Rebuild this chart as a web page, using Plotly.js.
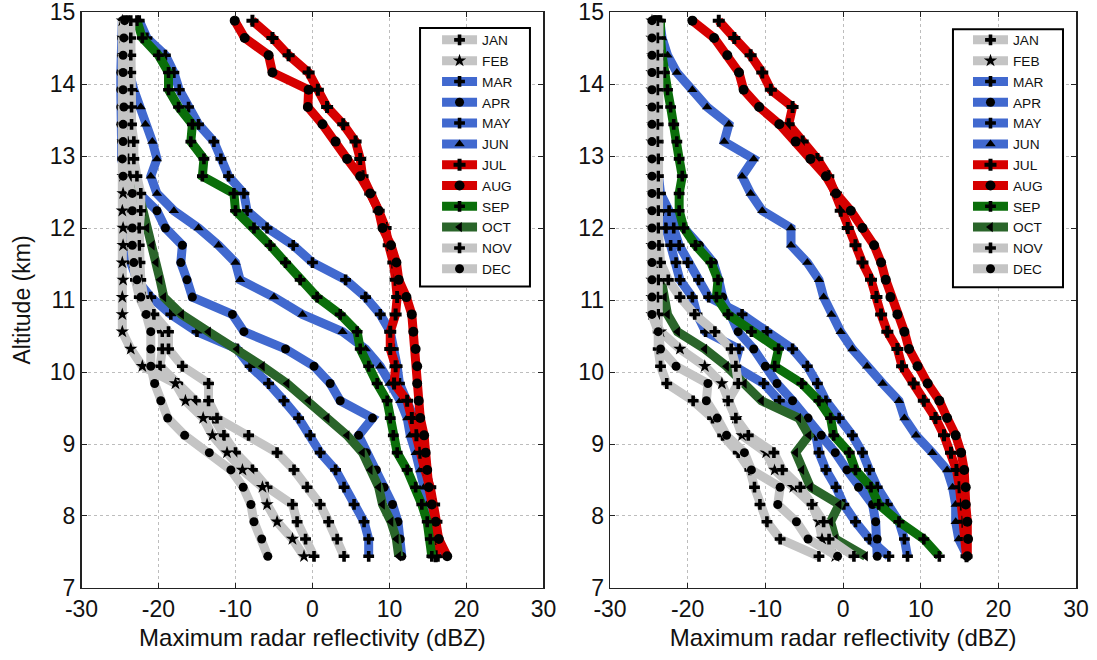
<!DOCTYPE html>
<html>
<head>
<meta charset="utf-8">
<script src="https://cdn.plot.ly/plotly-3.0.1.min.js"></script>
<style>html,body{margin:0;padding:0;background:#fff;}#chart{width:1097px;height:660px;}</style>
</head>
<body>
<div id="chart"></div>
<script>
// Altitude levels (km), bottom to top
const ALT = [7.44,7.68,7.92,8.16,8.40,8.64,8.88,9.12,9.36,9.60,9.84,10.08,10.32,10.56,10.80,11.04,11.28,11.52,11.76,12.00,12.24,12.48,12.72,12.96,13.20,13.44,13.68,13.92,14.16,14.40,14.64,14.88];
const MONTHS = ['JAN','FEB','MAR','APR','MAY','JUN','JUL','AUG','SEP','OCT','NOV','DEC'];
const X_TICKS = [-30,-20,-10,0,10,20,30];
const X_TICK_TEXT = ['-30','-20','-10','0','10','20','30'];
const Y_TICKS = [7,8,9,10,11,12,13,14,15];

// ---- Left panel: max reflectivity (dBZ) per altitude level ----
const L_JAN = [0.2,-0.9,-2.0,-2.6,-5.9,-7.8,-10.0,-11.5,-12.8,-15.2,-17.5,-19.8,-19.5,-19.5,-21.5,-22.5,-23.0,-23.3,-23.5,-23.6,-23.6,-23.7,-23.7,-23.8,-23.8,-23.8,-23.9,-23.9,-23.9,-24.0,-24.0,-24.0];
const L_FEB = [-1.1,-2.6,-4.6,-5.9,-6.5,-9.1,-11.1,-13.0,-14.2,-16.5,-17.8,-22.1,-23.6,-24.7,-24.7,-24.7,-24.6,-24.7,-24.6,-24.6,-24.7,-24.6,-24.6,-24.5,-24.6,-24.6,-24.5,-24.6,-24.6,-24.5,-24.6,-24.7];
const L_MAR = [7.3,7.3,6.7,5.4,4.1,3.0,1.0,-0.3,-1.8,-3.7,-5.7,-8.1,-9.8,-15.0,-18.4,-21.0,-22.8,-23.6,-24.0,-24.2,-24.3,-24.4,-24.5,-24.5,-24.6,-24.6,-24.6,-24.6,-24.6,-24.6,-24.5,-24.4];
const L_APR = [11.6,11.4,11.1,10.4,9.3,8.3,7.0,6.0,7.8,3.6,2.3,0.2,-3.5,-8.9,-10.4,-15.6,-16.3,-17.1,-16.9,-19.1,-20.2,-22.5,-24.3,-24.8,-24.8,-24.9,-24.9,-24.9,-24.9,-24.8,-24.8,-24.7];
const L_MAY = [16.3,16.1,15.9,15.6,15.2,14.8,14.3,13.8,13.2,12.2,11.3,11.0,10.5,10.1,8.8,6.9,4.3,0.0,-2.5,-5.9,-8.5,-8.9,-10.9,-11.9,-12.8,-14.8,-16.1,-17.3,-18.0,-19.1,-21.5,-22.5];
const L_JUN = [15.6,15.4,15.2,14.9,14.5,14.0,13.4,12.7,12.3,11.4,10.0,8.8,6.9,3.9,-1.3,-5.0,-9.4,-10.0,-12.2,-14.8,-18.0,-20.2,-21.0,-20.2,-20.8,-21.7,-22.3,-23.2,-23.8,-24.2,-24.4,-24.5];
const L_JUL = [16.0,16.2,16.1,15.8,15.3,14.6,14.0,13.5,12.9,12.3,10.6,10.8,10.1,10.1,10.8,11.0,10.8,10.5,9.9,9.5,8.6,7.5,6.5,6.2,5.6,4.0,1.9,0.7,-0.5,-3.1,-5.2,-7.8];
const L_AUG = [17.5,16.4,16.0,15.5,15.1,14.9,14.7,14.5,14.0,13.8,13.6,13.6,13.4,13.1,12.9,12.2,11.2,10.9,10.2,9.1,8.6,7.5,6.2,4.5,3.0,1.3,-0.6,-0.5,-5.2,-5.7,-8.8,-10.1];
const L_SEP = [15.5,15.3,14.9,14.2,13.4,12.3,11.0,10.5,10.1,9.7,8.4,7.3,6.2,5.8,3.6,0.6,-1.6,-3.5,-5.5,-7.6,-10.0,-10.2,-14.3,-14.1,-15.8,-15.6,-17.4,-18.7,-18.7,-20.0,-22.1,-22.8];
const L_OCT = [11.2,10.9,10.2,9.1,8.6,7.5,6.5,4.5,1.9,-0.5,-3.3,-6.5,-9.8,-13.5,-17.0,-19.3,-19.8,-20.3,-20.8,-21.5,-22.0,-22.6,-23.1,-23.6,-24.3,-24.3,-24.3,-24.3,-24.3,-24.3,-24.3,-24.3];
const L_NOV = [4.1,3.2,2.1,1.0,-0.7,-2.4,-4.6,-8.3,-12.4,-13.5,-13.5,-16.9,-18.7,-18.7,-20.6,-21.9,-22.3,-22.4,-22.5,-22.5,-22.3,-22.3,-22.8,-23.2,-23.2,-23.5,-23.5,-23.5,-23.6,-23.6,-23.6,-23.6];
const L_DEC = [-5.8,-6.6,-7.6,-8.0,-9.0,-10.6,-13.4,-16.6,-18.8,-19.7,-20.5,-21.0,-21.0,-21.0,-21.6,-22.3,-22.8,-23.2,-23.4,-23.4,-23.4,-23.4,-24.6,-24.7,-24.6,-24.6,-24.5,-24.6,-24.6,-24.6,-24.5,-24.4];

// ---- Right panel ----
const R_JAN = [-3.1,-8.1,-9.8,-10.7,-11.4,-12.0,-13.5,-15.5,-16.8,-19.3,-22.7,-23.5,-23.8,-23.8,-23.8,-23.9,-23.8,-23.8,-23.9,-23.8,-23.8,-23.8,-23.9,-23.8,-23.8,-23.8,-23.9,-23.8,-23.8,-23.8,-23.7,-23.7];
const R_FEB = [-1.0,-2.7,-3.1,-4.0,-6.4,-8.8,-9.9,-13.0,-13.8,-14.8,-15.6,-17.8,-21.0,-23.5,-24.6,-24.6,-24.6,-24.5,-24.6,-24.6,-24.6,-24.5,-24.6,-24.6,-24.6,-24.5,-24.6,-24.6,-24.6,-24.5,-24.6,-24.6];
const R_MAR = [5.9,3.4,1.6,0.1,-0.9,-2.2,-3.1,-3.5,-5.5,-8.2,-10.2,-14.0,-13.4,-17.7,-18.8,-19.4,-21.0,-21.5,-22.2,-22.8,-23.3,-23.8,-24.2,-24.3,-24.4,-24.4,-24.4,-24.4,-24.4,-24.4,-24.3,-24.3];
const R_APR = [4.4,4.4,4.2,3.8,2.0,0.5,-1.0,-2.8,-4.5,-6.5,-8.5,-10.0,-11.5,-13.5,-14.5,-15.5,-16.0,-16.7,-18.5,-20.5,-22.5,-23.6,-24.0,-24.2,-24.3,-24.3,-24.3,-24.3,-24.3,-24.3,-24.3,-24.3];
const R_MAY = [8.3,7.9,7.2,5.7,4.4,3.4,2.5,1.2,-0.5,-2.2,-3.3,-4.6,-6.5,-9.8,-13.0,-17.3,-18.6,-20.0,-21.1,-21.8,-22.4,-23.5,-23.8,-24.0,-24.1,-24.2,-24.2,-24.2,-24.2,-24.2,-24.2,-24.2];
const R_JUN = [16.0,14.9,14.5,14.5,14.1,13.4,11.5,9.4,7.9,7.2,5.1,3.1,1.2,-0.3,-1.5,-2.5,-3.1,-4.6,-6.7,-6.7,-10.4,-11.9,-13.0,-11.5,-15.3,-14.7,-17.5,-19.4,-21.4,-22.6,-23.3,-23.6];
const R_JUL = [15.9,15.7,15.5,15.3,15.0,14.6,13.9,13.0,11.9,10.4,9.1,7.6,7.0,5.7,4.9,4.3,3.6,2.5,1.6,0.6,-0.3,-0.9,-1.9,-3.3,-5.2,-7.0,-6.5,-9.3,-10.4,-11.9,-14.0,-16.0];
const R_AUG = [16.0,16.1,16.0,15.8,15.8,15.6,15.2,14.5,13.4,12.4,10.9,9.6,8.5,7.9,7.0,6.1,5.5,4.9,4.0,2.5,1.0,-0.9,-2.2,-4.2,-6.1,-8.2,-10.8,-12.8,-13.4,-14.9,-16.6,-19.4];
const R_SEP = [12.4,10.4,7.2,4.6,3.6,1.6,0.8,-1.2,-1.6,-3.1,-5.3,-8.8,-8.3,-11.8,-14.8,-16.3,-16.1,-17.0,-19.0,-20.5,-21.1,-21.1,-20.7,-21.1,-21.4,-21.8,-22.2,-22.6,-23.0,-23.3,-23.5,-23.5];
const R_OCT = [2.9,-1.0,-1.6,-0.5,-4.2,-5.3,-6.1,-4.4,-5.7,-10.5,-12.7,-15.0,-17.8,-21.3,-22.6,-23.0,-23.3,-23.9,-24.2,-24.2,-24.2,-24.2,-24.2,-24.2,-24.2,-24.2,-24.2,-24.2,-24.2,-24.2,-24.2,-24.2];
const R_NOV = [1.4,-1.8,-2.5,-4.0,-5.5,-7.8,-8.9,-12.2,-13.8,-14.8,-13.5,-13.8,-14.4,-16.5,-19.1,-21.0,-22.5,-23.5,-23.7,-23.8,-23.8,-23.8,-23.8,-23.8,-23.9,-23.9,-23.9,-23.9,-23.9,-23.9,-23.9,-23.9];
const R_DEC = [-0.7,-4.5,-6.0,-8.4,-8.1,-11.8,-12.7,-15.0,-16.2,-17.6,-17.4,-21.5,-23.5,-23.8,-24.6,-24.6,-24.6,-24.6,-24.6,-24.6,-24.6,-24.6,-24.6,-24.6,-24.6,-24.6,-24.6,-24.6,-24.6,-24.6,-24.6,-24.6];

const LEFT  = [L_JAN,L_FEB,L_MAR,L_APR,L_MAY,L_JUN,L_JUL,L_AUG,L_SEP,L_OCT,L_NOV,L_DEC];
const RIGHT = [R_JAN,R_FEB,R_MAR,R_APR,R_MAY,R_JUN,R_JUL,R_AUG,R_SEP,R_OCT,R_NOV,R_DEC];

// styles
const GRAY='#c4c4c4', BLUE='#4169cf', RED='#d60000', GRN='#0a6e0a', GRN2='#2a652a';
const COLORS = [GRAY,GRAY,BLUE,BLUE,BLUE,BLUE,RED,RED,GRN,GRN2,GRAY,GRAY];
const SYMBOLS = ['cross','star','cross','circle','cross','triangle-up','cross','circle','cross','triangle-left','cross','circle'];
const MSIZE = [9,10,9,9,9,9,10,10,9,9,9,9];
// drawing order: colored months first, then gray months on top
const DRAW_ORDER = [2,3,4,5,6,7,8,9,0,1,10,11];

const traces = [];
function addPanel(series, xa, ya, leg){
  DRAW_ORDER.forEach(function(i){
    traces.push({
      type:'scatter', mode:'lines+markers',
      x: series[i], y: ALT, xaxis: xa, yaxis: ya,
      name: MONTHS[i], legend: leg, legendrank: i+1,
      line: {color: COLORS[i], width: 9},
      marker: {color:'#000', size: MSIZE[i], symbol: SYMBOLS[i]},
      hoverinfo:'skip'
    });
  });
}
addPanel(LEFT,'x','y','legend');
addPanel(RIGHT,'x2','y2','legend2');

const FONT = 'Liberation Sans, Arial, sans-serif';
function xax(dom){
  return {domain: dom, range:[-30,30], tickvals:X_TICKS, ticktext:X_TICK_TEXT,
    showline:true, linecolor:'#222', linewidth:1.5, mirror:'ticks', ticks:'inside', ticklen:5, tickcolor:'#222',
    showgrid:true, gridcolor:'#bdbdbd', griddash:'dot', gridwidth:1, zeroline:false,
    tickfont:{family:FONT, size:23, color:'#111'}, ticklabeloverflow:'allow',
    title:{text:'Maximum radar reflectivity (dBZ)', font:{family:FONT, size:24, color:'#111'}, standoff:8},
    automargin:false, fixedrange:true};
}
function yax(anchor, withTitle){
  const a = {domain:[0.1091,0.9818], range:[7,15], tickvals:Y_TICKS, anchor:anchor,
    showline:true, linecolor:'#222', linewidth:1.5, mirror:'ticks', ticks:'inside', ticklen:5, tickcolor:'#222',
    showgrid:true, gridcolor:'#bdbdbd', griddash:'dot', gridwidth:1, zeroline:false,
    tickfont:{family:FONT, size:23, color:'#111'}, ticklabeloverflow:'allow',
    automargin:false, fixedrange:true};
  if(withTitle) a.title = {text:'Altitude (km)', font:{family:FONT, size:23, color:'#111'}, standoff:13};
  return a;
}
const legStyle = {bgcolor:'rgba(0,0,0,0)', borderwidth:0, font:{family:FONT, size:13.7, color:'#111'},
  traceorder:'normal', itemwidth:35, yanchor:'top', xanchor:'left', tracegroupgap:0};

// legend frames (white boxes with black border), drawn above the data, below the legends
const BOX = {type:'rect', xref:'paper', yref:'paper', layer:'above', fillcolor:'#fff', line:{color:'#000', width:2}};

const layout = {
  width:1097, height:660, margin:{l:0,r:0,t:0,b:0},
  paper_bgcolor:'#fff', plot_bgcolor:'#fff', showlegend:true,
  xaxis: Object.assign(xax([0.0743,0.4954]), {anchor:'y'}),
  yaxis: yax('x', true),
  xaxis2: Object.assign(xax([0.5561,0.9809]), {anchor:'y2'}),
  yaxis2: yax('x2', false),
  legend: Object.assign({x:0.3984, y:0.963}, legStyle),
  legend2: Object.assign({x:0.8824, y:0.963}, legStyle),
  shapes: [
    Object.assign({x0:0.3829, x1:0.4831, y0:0.5659, y1:0.9576}, BOX),
    Object.assign({x0:0.8687, x1:0.9690, y0:0.5647, y1:0.9556}, BOX)
  ]
};

Plotly.newPlot('chart', traces, layout, {displayModeBar:false, staticPlot:true});
</script>
</body>
</html>
